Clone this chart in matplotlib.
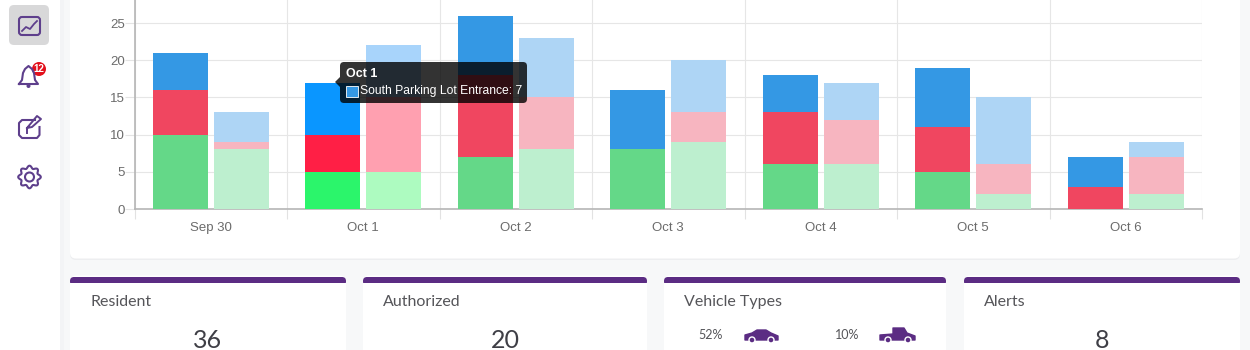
import numpy as np
import matplotlib
matplotlib.use("Agg")
import matplotlib.pyplot as plt
from matplotlib.patches import FancyBboxPatch, Rectangle, Circle, Polygon

W, H = 1250, 350
PURPLE = "#5B2C83"
ICON = "#5E3F8C"

# chart data
days = ["Sep 30", "Oct 1", "Oct 2", "Oct 3", "Oct 4", "Oct 5", "Oct 6"]
green_a = [10, 5, 7, 8, 6, 5, 0]
red_a = [6, 5, 11, 0, 7, 6, 3]
blue_a = [5, 7, 8, 8, 5, 8, 4]
green_b = [8, 5, 8, 9, 6, 2, 2]
red_b = [1, 10, 7, 4, 6, 4, 5]
blue_b = [4, 7, 8, 7, 5, 9, 2]
y_ticks = [0, 5, 10, 15, 20, 25]

card_titles = ["Resident", "Authorized", "Vehicle Types", "Alerts"]
card_values = ["36", "20", "", "8"]
vehicle_shares = ["52%", "10%"]
hover_title = "Oct 1"
hover_label = "South Parking Lot Entrance: 7"
badge_count = "12"

plt.rcParams["font.family"] = ["Liberation Sans", "DejaVu Sans"]

fig = plt.figure(figsize=(W / 100, H / 100), dpi=100, facecolor="#F7F8F9")

# background layer in pixels
bg = fig.add_axes([0, 0, 1, 1], zorder=0)
bg.set_xlim(0, W)
bg.set_ylim(H, 0)
bg.axis("off")


def card(ax, x0, y0, x1, y1, r=6):
    ax.add_patch(FancyBboxPatch((x0 + r, y0 + r), x1 - x0 - 2 * r, y1 - y0 - 2 * r,
                                boxstyle=f"round,pad={r},rounding_size={r}",
                                fc="#EDEEF0", ec="none", lw=0, transform=ax.transData))
    ax.add_patch(FancyBboxPatch((x0 + r, y0 + r - 1.5), x1 - x0 - 2 * r, y1 - y0 - 2 * r,
                                boxstyle=f"round,pad={r},rounding_size={r}",
                                fc="white", ec="none", lw=0))


# sidebar
bg.add_patch(Rectangle((0, 0), 60, H, fc="white", ec="none"))
bg.add_patch(Rectangle((60, 0), 4, H, fc="#F3F4F6", ec="none"))

# main card
card(bg, 70, -20, 1240, 260)

# bottom cards
boxes = [(70, 346), (363, 647), (664, 946), (964, 1240)]
for (x0, x1), title, val in zip(boxes, card_titles, card_values):
    card(bg, x0, 277, x1, 380)
    bg.add_patch(FancyBboxPatch((x0 + 4, 281), x1 - x0 - 8, 0.5,
                                boxstyle="round,pad=4,rounding_size=4", fc=PURPLE, ec="none"))
    bg.add_patch(Rectangle((x0, 283), x1 - x0, 6, fc="white", ec="none"))
    bg.text(x0 + 20, 302, title, family="Lato", fontsize=11.5, color="#555559", va="center")
    if val:
        bg.text((x0 + x1) / 2, 340, val, family="Lato", fontsize=18, color="#3F3F46",
                ha="center", va="center")

bg.text(711, 335, vehicle_shares[0], family="Lato", fontsize=9, color="#555559", ha="center", va="center")
bg.text(847, 335, vehicle_shares[1], family="Lato", fontsize=9, color="#555559", ha="center", va="center")

# car icon
bg.add_patch(Polygon([(745, 340), (745, 335), (752, 333), (757, 330), (766, 330),
                      (771, 333), (778, 336), (778, 340)], fc=PURPLE, ec=PURPLE, lw=1, joinstyle="round"))
# truck icon
bg.add_patch(Polygon([(880, 340), (880, 335), (893, 334), (893, 328), (904, 328),
                      (907, 333), (915, 336), (915, 340)], fc=PURPLE, ec=PURPLE, lw=1, joinstyle="round"))
for cx in (752, 771, 888, 908):
    bg.add_patch(Circle((cx, 340), 3, fc=PURPLE, ec="white", lw=1))

# sidebar icons
bg.add_patch(FancyBboxPatch((14, 10), 30, 30, boxstyle="round,pad=5,rounding_size=5", fc="#D8D8D9", ec="none"))
bg.add_patch(FancyBboxPatch((19, 17), 21, 18, boxstyle="round,pad=0,rounding_size=3", fc="none", ec=ICON, lw=1.5))
bg.plot([22, 26, 30, 34, 37], [31, 27, 29, 24, 21], color=ICON, lw=1.3)

bell = np.array([[19, 84], [22, 80], [23, 73], [25, 69], [28.5, 66], [32, 69], [34, 73], [35, 80], [38, 84], [19, 84]])
bg.plot(bell[:, 0], bell[:, 1], color=ICON, lw=1.5)
bg.add_patch(Circle((28.5, 86), 2, fc=ICON, ec="none"))
bg.add_patch(Circle((39, 69), 7, fc="#E3101C", ec="none"))
bg.text(39, 69.5, badge_count, fontsize=7, fontweight="bold", color="white", ha="center", va="center")

bg.plot([35, 22, 19, 19, 22, 37, 39.5, 39.5], [120, 120, 123, 135, 138, 138, 135, 127], color=ICON, lw=1.5)
bg.plot([27, 27, 32, 41, 37, 27], [133, 128, 127, 119, 116, 128], color=ICON, lw=1.4)

ang = np.linspace(0, 2 * np.pi, 145)
rad = 10 + 1.3 * np.cos(8 * ang)
bg.add_patch(Polygon(np.c_[29.5 + rad * np.sin(ang), 177 + rad * np.cos(ang)], fc="none", ec=ICON, lw=1.5, joinstyle="round"))
bg.add_patch(Circle((29.5, 177), 4.5, fc="none", ec=ICON, lw=1.5))

# chart, placed so that the axis lines land where they are in the screenshot
left, right, base, top = 134.5, 1202, 209, 0
ax = fig.add_axes([left / W, 1 - base / H, (right - left) / W, (base - top) / H], zorder=1)
ax.patch.set_alpha(0)
ax.set_xlim(-0.5, 6.5)
ax.set_ylim(0, (base - top) / 37.2 * 5)

x = np.arange(len(days))
bar_w = 0.36
off = 0.2

solid = ["#64D888", "#F04660", "#3498E4"]
pale = ["#BDEFCF", "#F7B5C0", "#AED5F5"]
hover_solid = ["#2BF56B", "#FF1F45", "#0A96FF"]
hover_pale = ["#ADFBC0", "#FFA0B0", "#A8D4FB"]


def stack(xs, layers, cols, hover_cols):
    bottom = np.zeros(len(xs))
    for vals, c, hc in zip(layers, cols, hover_cols):
        colors = [hc if i == 1 else c for i in range(len(xs))]
        ax.bar(xs, vals, bar_w, bottom=bottom, color=colors, zorder=3)
        bottom += np.array(vals)


stack(x - off, [green_a, red_a, blue_a], solid, hover_solid)
stack(x + off, [green_b, red_b, blue_b], pale, hover_pale)

ax.set_yticks(y_ticks)
ax.set_xticks(np.arange(-0.5, 7, 1))
ax.set_xticklabels([])
ax.set_xticks(x, days, minor=True)
ax.tick_params(axis="x", which="major", length=7, color="#E2E2E2", width=0.8)
ax.tick_params(axis="x", which="minor", length=0, pad=9, labelsize=9.5, labelcolor="#6B6B6B")
ax.tick_params(axis="y", length=7, color="#E4E4E4", width=0.8, pad=0, labelsize=9.5, labelcolor="#6B6B6B")
ax.grid(True, axis="both", which="major", color="#E6E6E6", lw=0.8, zorder=1)
for s in ("top", "right"):
    ax.spines[s].set_visible(False)
for s in ("left", "bottom"):
    ax.spines[s].set_color("#B5B5B5")
    ax.spines[s].set_linewidth(1.2)

# tooltip on top of everything
fg = fig.add_axes([0, 0, 1, 1], zorder=2)
fg.set_xlim(0, W)
fg.set_ylim(H, 0)
fg.axis("off")
fg.add_patch(FancyBboxPatch((344, 66), 179, 33, boxstyle="round,pad=4,rounding_size=4",
                            fc="black", alpha=0.8, ec="none"))
fg.add_patch(Polygon([(340, 77), (335, 82), (340, 87)], fc="black", alpha=0.8, ec="none"))
fg.text(345.5, 74, hover_title, fontsize=9, fontweight="bold", color="white", va="center")
fg.add_patch(Rectangle((346, 86), 12, 11, fc="#3498E4", ec="#FFFFFF", lw=0.6))
fg.text(359.5, 91, hover_label, fontsize=8.7, color="white", va="center")

fig.savefig("out.png", dpi=100, facecolor=fig.get_facecolor())
